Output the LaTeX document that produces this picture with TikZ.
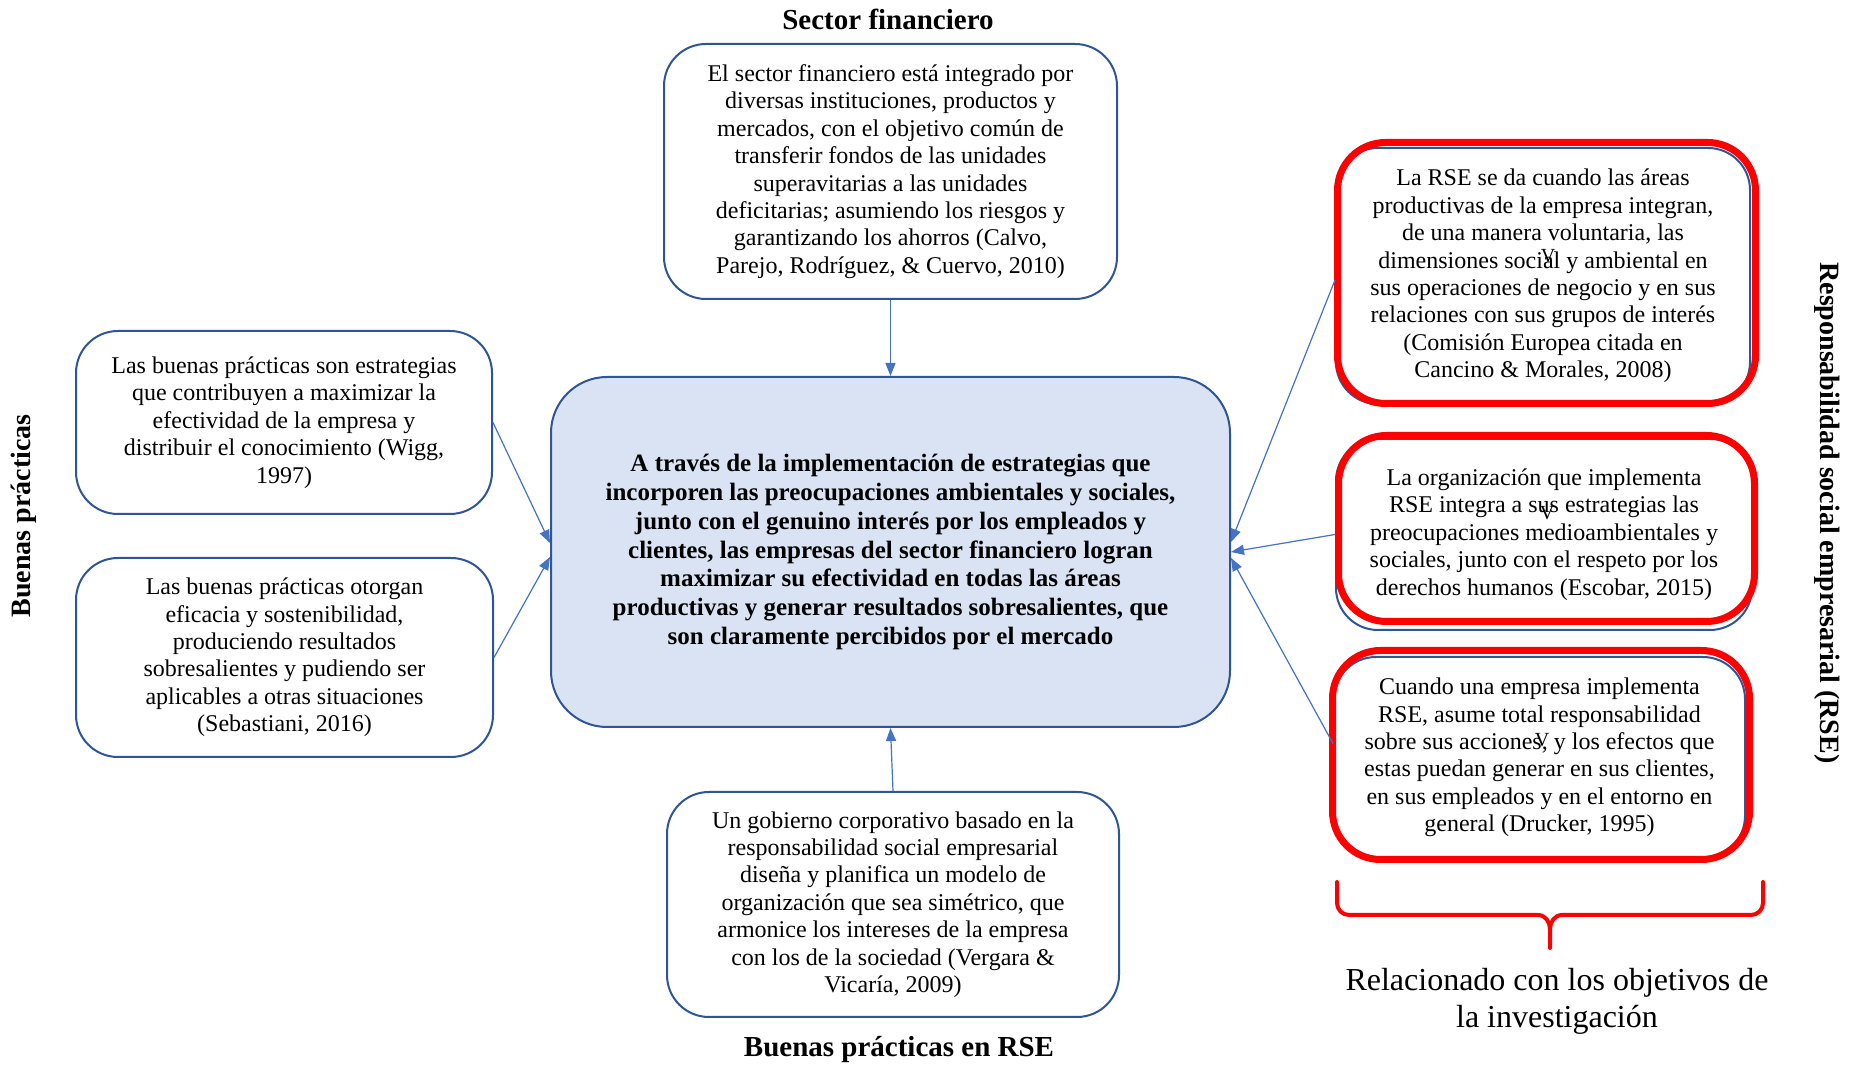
\documentclass[tikz,border=0pt]{standalone}
\usepackage{fontspec}
\setmainfont{Liberation Serif}
\usetikzlibrary{arrows.meta,calc}
\definecolor{bord}{HTML}{2F5597}
\definecolor{arr}{HTML}{4472C4}
\definecolor{cfill}{HTML}{DAE3F3}
\definecolor{rsered}{HTML}{FF0000}
\begin{document}
\begin{tikzpicture}[x=0.5pt,y=-0.5pt,
  txtbox/.style={draw=bord, line width=1pt, rounded corners=21pt, fill=white,
    align=center, font=\fontsize{12}{13.7}\selectfont, inner sep=0pt},
  cenbox/.style={draw=bord, line width=1pt, rounded corners=28pt, fill=cfill,
    align=center, font=\fontsize{12.5}{14.35}\selectfont\bfseries, inner sep=0pt},
  redframe/.style={draw=rsered, line width=3.5pt, rounded corners=24pt},
  title/.style={font=\fontsize{14.5}{16}\selectfont\bfseries, inner sep=0pt},
  sidetitle/.style={font=\fontsize{14}{16}\selectfont\bfseries, inner sep=0pt},
  conn/.style={draw=arr, line width=0.6pt, -{Triangle[length=6.5pt,width=5pt]}},
  vmark/.style={font=\fontsize{10}{10}\selectfont, inner sep=0pt},
  brace/.style={draw=rsered, line width=2pt, line cap=round},
  note/.style={font=\fontsize{16}{18.4}\selectfont, align=center, inner sep=0pt}]
\useasboundingbox[fill=white] (0,0) rectangle (1854,1068);

% titles
\node[title] (tsec) at (888,19) {Sector financiero};
\node[title] (tbot) at (899,1050) {Buenas prácticas en RSE};
\node[sidetitle, rotate=90] (tbp) at (24,516) {Buenas prácticas};
\node[sidetitle, rotate=-90] (trse) at (1827,513) {Responsabilidad social empresarial (RSE)};

% central box
\node[cenbox, minimum width=339.5pt, minimum height=175pt] (cen) at (890.5,552)
 {A través de la implementación de estrategias que\\
  incorporen las preocupaciones ambientales y sociales,\\
  junto con el genuino interés por los empleados y\\
  clientes, las empresas del sector financiero logran\\
  maximizar su efectividad en todas las áreas\\
  productivas y generar resultados sobresalientes, que\\
  son claramente percibidos por el mercado};

% top box
\node[txtbox, minimum width=226.5pt, minimum height=127.5pt] (sec) at (890.5,171.5)
 {El sector financiero está integrado por\\
  diversas instituciones, productos y\\
  mercados, con el objetivo común de\\
  transferir fondos de las unidades\\
  superavitarias a las unidades\\
  deficitarias; asumiendo los riesgos y\\
  garantizando los ahorros (Calvo,\\
  Parejo, Rodríguez, \& Cuervo, 2010)};

% bottom box
\node[txtbox, minimum width=226pt, minimum height=112.5pt] (bot) at (893,904.5)
 {Un gobierno corporativo basado en la\\
  responsabilidad social empresarial\\
  diseña y planifica un modelo de\\
  organización que sea simétrico, que\\
  armonice los intereses de la empresa\\
  con los de la sociedad (Vergara \&\\
  Vicaría, 2009)};

% left boxes
\node[txtbox, minimum width=208pt, minimum height=91.5pt] (l1) at (284,422.5)
 {Las buenas prácticas son estrategias\\
  que contribuyen a maximizar la\\
  efectividad de la empresa y\\
  distribuir el conocimiento (Wigg,\\
  1997)};
\node[txtbox, minimum width=208.5pt, minimum height=99.5pt] (l2) at (284.5,657.5)
 {Las buenas prácticas otorgan\\
  eficacia y sostenibilidad,\\
  produciendo resultados\\
  sobresalientes y pudiendo ser\\
  aplicables a otras situaciones\\
  (Sebastiani, 2016)};

% right boxes
\node[txtbox, minimum width=207pt, minimum height=128pt] (r1) at (1543,276)
 {La RSE se da cuando las áreas\\
  productivas de la empresa integran,\\
  de una manera voluntaria, las\\
  dimensiones social y ambiental en\\
  sus operaciones de negocio y en sus\\
  relaciones con sus grupos de interés\\
  (Comisión Europea citada en\\
  Cancino \& Morales, 2008)};
\node[txtbox, minimum width=208pt, minimum height=95.5pt] (r2) at (1544,534.5)
 {La organización que implementa\\
  RSE integra a sus estrategias las\\
  preocupaciones medioambientales y\\
  sociales, junto con el respeto por los\\
  derechos humanos (Escobar, 2015)};
\node[txtbox, minimum width=205.5pt, minimum height=100.5pt] (r3) at (1539.5,757.5)
 {Cuando una empresa implementa\\
  RSE, asume total responsabilidad\\
  sobre sus acciones, y los efectos que\\
  estas puedan generar en sus clientes,\\
  en sus empleados y en el entorno en\\
  general (Drucker, 1995)};

% red frames
\draw[redframe] (1337.5,142.5) rectangle (1755.5,403.5);
\draw[redframe] (1338.5,435.5) rectangle (1754.5,621.5);
\draw[redframe] (1332.5,650.5) rectangle (1749.5,859.5);

% stray marks
\node[vmark] (v1) at (1548,256) {V};
\node[vmark] (v2) at (1547,513) {V};
\node[vmark] (v3) at (1542,740) {V};

% connectors
\draw[conn] (sec.south) -- (cen.north);
\draw[conn] (bot.north) -- (cen.south);
\draw[conn] (l1.east) -- ([yshift=4.5pt]cen.west);
\draw[conn] (l2.east) -- ([yshift=-2.5pt]cen.west);
\draw[conn] ([yshift=-2pt]r1.west) -- ([yshift=5pt]cen.east);
\draw[conn] (r2.west) -- (cen.east);
\draw[conn] ([yshift=7pt]r3.west) -- ([yshift=-3pt]cen.east);

% brace
\coordinate (btip) at (1550,948);
\draw[brace] (1337,882) -- (1337,903) to[out=-90,in=180] (1349,915) -- (1538,915)
  to[out=0,in=90] (1550,929) -- (btip);
\draw[brace] (1550,929) to[out=90,in=180] (1562,915) -- (1751,915)
  to[out=0,in=-90] (1763,903) -- (1763,882);
\node[note] (obj) at (1557,1001) {Relacionado con los objetivos de\\la investigación};
\end{tikzpicture}
\end{document}
